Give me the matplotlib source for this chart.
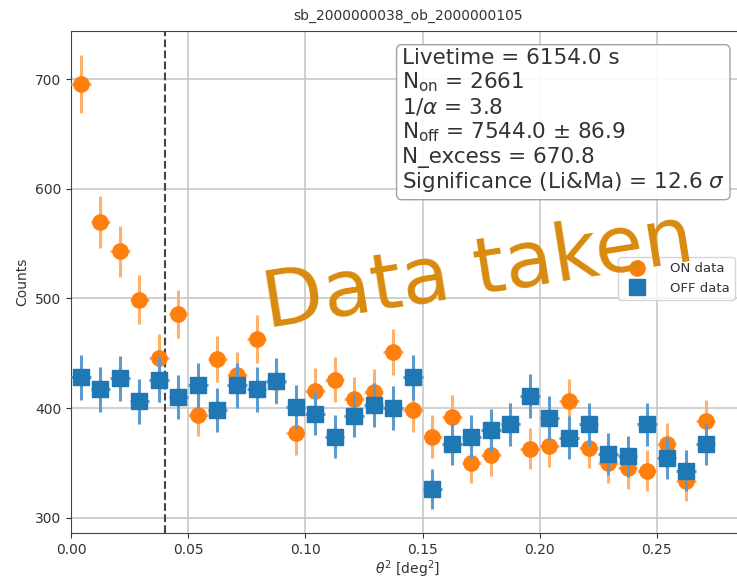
import numpy as np
import matplotlib
matplotlib.use("Agg")
import matplotlib.pyplot as plt
from matplotlib.lines import Line2D

# theta^2 binning (33 bins up to 0.275 deg^2)
theta2_edges = np.linspace(0.0, 0.275, 34)

# counts
on_counts = [696, 570, 543, 499, 446, 486, 394, 445, 430, 463, 424,
             377, 416, 426, 408, 415, 451, 398, 374, 392, 350, 357,
             385, 363, 365, 406, 364, 350, 345, 343, 367, 333, 388]
off_counts = [428, 417, 427, 406, 426, 410, 421, 398, 421, 417, 425,
              401, 395, 374, 393, 403, 400, 428, 326, 367, 374, 380,
              385, 411, 391, 373, 385, 358, 356, 385, 354, 343, 367]

theta2_cut = 0.04
title = "sb_2000000038_ob_2000000105"
stats_lines = [
    "Livetime = 6154.0 s",
    r"N$_{\rm on}$ = 2661",
    r"1/$\alpha$ = 3.8",
    r"N$_{\rm off}$ = 7544.0 $\pm$ 86.9",
    "N_excess = 670.8",
    r"Significance (Li&Ma) = 12.6 $\sigma$",
]

centers = 0.5 * (theta2_edges[1:] + theta2_edges[:-1])
half_width = 0.5 * (theta2_edges[1] - theta2_edges[0])
on = np.array(on_counts, dtype=float)
off = np.array(off_counts, dtype=float)

W, H = 737, 581
fig = plt.figure(figsize=(W / 100, H / 100), dpi=100)
# axes box in pixels: left 71, right 745 (cropped), top 31, bottom 533
ax = fig.add_axes([71 / W, (H - 533) / H, (745 - 71) / W, (533 - 31) / H])

ax.grid(True, color="#c8c8c8", lw=1.2)
ax.set_axisbelow(True)

ax.errorbar(centers, on, yerr=np.sqrt(on), xerr=half_width, fmt="o",
            color="#ff7f0e", ms=11, elinewidth=2.2, ecolor="#ffb06a", zorder=3)
ax.errorbar(centers, off, yerr=np.sqrt(off), xerr=half_width, fmt="s",
            color="#1f77b4", ms=11, elinewidth=2.2, ecolor="#5b9bd0", zorder=4)

ax.axvline(theta2_cut, color="#444444", ls="--", lw=1.5, zorder=2)

ax.set_xlim(0, 0.2876)
ax.set_ylim(286, 744)
ax.set_xticks([0.0, 0.05, 0.10, 0.15, 0.20, 0.25])
ax.set_yticks([300, 400, 500, 600, 700])
ax.tick_params(labelsize=10, color="#333333", labelcolor="#333333")
for s in ax.spines.values():
    s.set_color("#444444")

ax.set_xlabel(r"$\theta^2$ [deg$^2$]", fontsize=10, color="#333333", labelpad=1)
ax.set_ylabel("Counts", fontsize=10, color="#333333")
ax.set_title(title, fontsize=10, color="#333333", pad=8)

ax.text(0.491, 0.966, "\n".join(stats_lines), transform=ax.transAxes,
        ha="left", va="top", fontsize=15.5, color="#333333", linespacing=1.15,
        bbox=dict(boxstyle="round,pad=0.25", fc="white", ec="#999999",
                  alpha=0.9), zorder=6)

handles = [
    Line2D([], [], marker="o", ls="", color="#ff7f0e", ms=11, label="ON data"),
    Line2D([], [], marker="s", ls="", color="#1f77b4", ms=11, label="OFF data"),
]
leg = ax.legend(handles=handles, loc="upper right", bbox_to_anchor=(0.985, 0.55),
                borderaxespad=0, fontsize=9.5, framealpha=0.8, handletextpad=1.5)
for t in leg.get_texts():
    t.set_color("#333333")

fig.text(478 / W, 1 - 272 / H, "Data taken", ha="center", va="center",
         rotation=9, fontsize=57, color="#d98a0e", zorder=10)

fig.savefig("out.png", dpi=100)
